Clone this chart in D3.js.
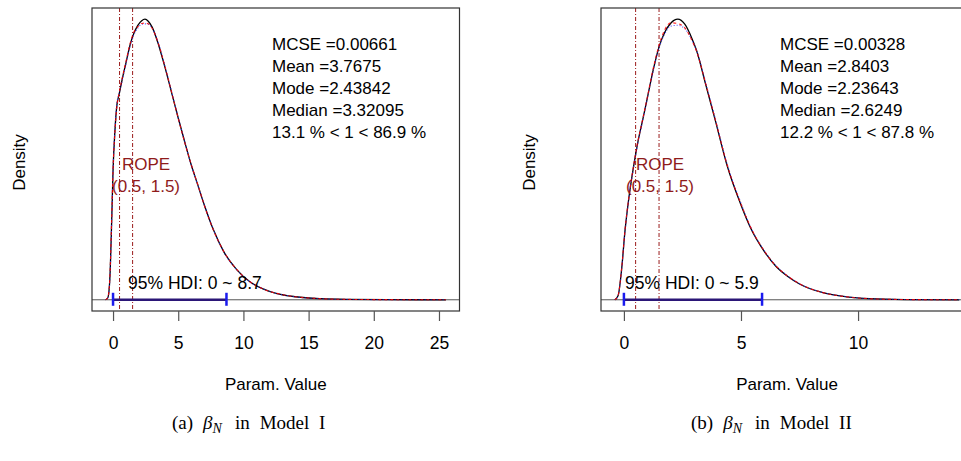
<!DOCTYPE html>
<html lang="en">
  <head>
    <meta charset="UTF-8" />
    <title>Posterior of beta_N</title>
    <script src="https://cdn.jsdelivr.net/npm/d3@7"></script>
    <style>
      body { margin: 0; background: #fff; }
      svg text { font-family: "Liberation Sans", Arial, sans-serif; }
      .cap { font-family: "Liberation Serif", "Times New Roman", serif; }
    </style>
  </head>

  <body>
    <div id="chart"></div>

    <script>

      // ---- Model I : density of beta_N (three chains) ----
      var xI = [-0.57, -0.4, -0.25, -0.1, 0.0, 0.15, 0.3, 0.45, 0.7, 1.0, 1.3, 1.6, 1.9, 2.2, 2.45, 2.7, 3.0, 3.5, 4.0, 4.5, 5.0,
                5.5, 6.0, 6.5, 7.0, 7.7, 8.5, 9.5, 10.5, 11.5, 12.5, 14.0, 16.0, 18.0, 21.0, 25.53];
      var densI = [0, 0.0015, 0.015, 0.061, 0.098, 0.129, 0.148, 0.155, 0.167, 0.180, 0.193, 0.202, 0.208, 0.2116, 0.2127, 0.2112,
                   0.2067, 0.193, 0.1756, 0.1567, 0.1378, 0.1196, 0.1022, 0.0871, 0.0719, 0.053, 0.0363, 0.0227, 0.0136, 0.0083,
                   0.0049, 0.0023, 0.0008, 0.0003, 0.0001, 0];
      var densI2 = [0, 0.0016, 0.016, 0.063, 0.099, 0.128, 0.147, 0.156, 0.168, 0.181, 0.194, 0.203, 0.207, 0.2095, 0.2098, 0.2092,
                    0.2058, 0.1935, 0.1762, 0.1570, 0.1375, 0.1192, 0.1025, 0.0874, 0.0716, 0.0528, 0.0365, 0.0228, 0.0137, 0.0082,
                    0.0050, 0.0023, 0.0008, 0.0003, 0.0001, 0];
      var densI3 = [0, 0.0014, 0.014, 0.060, 0.097, 0.130, 0.149, 0.156, 0.166, 0.179, 0.192, 0.201, 0.206, 0.2088, 0.2092, 0.2088,
                    0.2060, 0.1940, 0.1765, 0.1575, 0.1380, 0.1198, 0.1020, 0.0868, 0.0721, 0.0532, 0.0362, 0.0226, 0.0135, 0.0084,
                    0.0049, 0.0022, 0.0008, 0.0003, 0.0001, 0];
      var statsI = ["MCSE =0.00661", "Mean =3.7675", "Mode =2.43842", "Median =3.32095", "13.1 % < 1 < 86.9 %"];
      var hdiI = [0, 8.7];
      var ticksI = [0, 5, 10, 15, 20, 25];

      // ---- Model II ----
      var xII = [-0.39, -0.25, -0.1, 0.05, 0.2, 0.4, 0.6, 0.8, 1.0, 1.25, 1.5, 1.75, 2.0, 2.3, 2.6, 2.9, 3.1, 3.5, 3.9, 4.4,
                 5.0, 5.4, 6.0, 6.5, 7.0, 7.5, 8.5, 9.5, 10.5, 12.0, 14.32];
      var densII = [0, 0.0048, 0.036, 0.084, 0.120, 0.158, 0.190, 0.216, 0.2425, 0.276, 0.304, 0.322, 0.3325, 0.3373, 0.3313,
                    0.3145, 0.300, 0.258, 0.216, 0.162, 0.114, 0.087, 0.058, 0.040, 0.028, 0.019, 0.0085, 0.0036, 0.0013,
                    0.0003, 0];
      var densII2 = [0, 0.0050, 0.037, 0.085, 0.121, 0.159, 0.191, 0.217, 0.2435, 0.278, 0.306, 0.325, 0.3330, 0.3320, 0.3270,
                     0.3120, 0.2990, 0.259, 0.217, 0.163, 0.115, 0.088, 0.0585, 0.0405, 0.0283, 0.0192, 0.0086, 0.0036, 0.0013,
                     0.0003, 0];
      var densII3 = [0, 0.0046, 0.035, 0.083, 0.119, 0.157, 0.189, 0.215, 0.2420, 0.275, 0.303, 0.320, 0.3290, 0.3300, 0.3260,
                     0.3125, 0.3000, 0.260, 0.218, 0.164, 0.116, 0.088, 0.0588, 0.0408, 0.0285, 0.0193, 0.0087, 0.0037, 0.0013,
                     0.0003, 0];
      var statsII = ["MCSE =0.00328", "Mean =2.8403", "Mode =2.23643", "Median =2.6249", "12.2 % < 1 < 87.8 %"];
      var hdiII = [0, 5.9];
      var ticksII = [0, 5, 10];

      var rope = [0.5, 1.5];

      var w = 961,
          h = 461;

      var svg = d3.select("#chart").append("svg")
                  .attr("width", w)
                  .attr("height", h);

      svg.append("rect")
         .attr("width", w)
         .attr("height", h)
         .attr("fill", "#fff");

      var panels = [
        { xs: xI, ys: [densI, densI2, densI3], stats: statsI, hdi: hdiI, ticks: ticksI,
          left: 92, right: 459.5, statX: 272, ropeX: 146, hdiX: 128, ylab: 25, capX: 172,
          label: "(a)", model: "Model I" },
        { xs: xII, ys: [densII, densII2, densII3], stats: statsII, hdi: hdiII, ticks: ticksII,
          left: 601, right: 973, statX: 780, ropeX: 660, hdiX: 625, ylab: 535, capX: 691,
          label: "(b)", model: "Model II" }
      ];

      // plot region top / bottom (y pixels)
      var plotTop = 8,
          plotBot = 311;

      panels.forEach(function(p) {

        var ext = d3.extent(p.xs);
        var pad = (ext[1] - ext[0]) * 0.04;
        var xScale = d3.scaleLinear()
                       .domain([ext[0] - pad, ext[1] + pad])
                       .range([p.left, p.right]);

        var ymax = d3.max(p.ys[0]);
        var yScale = d3.scaleLinear()
                       .domain([-0.04 * ymax, 1.04 * ymax])
                       .range([plotBot, plotTop]);

        var g = svg.append("g");

        // zero line
        g.append("line")
         .attr("x1", p.left).attr("x2", p.right)
         .attr("y1", yScale(0)).attr("y2", yScale(0))
         .attr("stroke", "#555")
         .attr("stroke-width", 1);

        // ROPE lines
        g.selectAll(".rope")
         .data(rope)
         .enter()
         .append("line")
         .attr("class", "rope")
         .attr("x1", function(d) { return xScale(d); })
         .attr("x2", function(d) { return xScale(d); })
         .attr("y1", plotTop)
         .attr("y2", plotBot)
         .attr("stroke", "#9b1c1c")
         .attr("stroke-width", 1)
         .attr("stroke-dasharray", "4,2,1,2");

        // density curves: black solid, red dashed, blue dotted
        var styles = [
          { color: "#000", width: 1.3, dash: null },
          { color: "#ff0000", width: 1.1, dash: "3,3" },
          { color: "#3030ff", width: 1.1, dash: "1,2" }
        ];
        var line = d3.line()
                     .curve(d3.curveMonotoneX);
        [0, 2, 1].forEach(function(k) {
          var pts = p.xs.map(function(x, i) { return [xScale(x), yScale(p.ys[k][i])]; });
          g.append("path")
           .attr("d", line(pts))
           .attr("fill", "none")
           .attr("stroke", styles[k].color)
           .attr("stroke-width", styles[k].width)
           .attr("stroke-dasharray", styles[k].dash)
           .attr("opacity", k == 0 ? 1 : 0.85);
        });

        // HDI bar
        g.append("line")
         .attr("x1", xScale(p.hdi[0])).attr("x2", xScale(p.hdi[1]))
         .attr("y1", yScale(0)).attr("y2", yScale(0))
         .attr("stroke", "#2b1677")
         .attr("stroke-width", 2.5);
        g.selectAll(".hdiend")
         .data(p.hdi)
         .enter()
         .append("line")
         .attr("class", "hdiend")
         .attr("x1", function(d) { return xScale(d); })
         .attr("x2", function(d) { return xScale(d); })
         .attr("y1", yScale(0) - 7)
         .attr("y2", yScale(0) + 6)
         .attr("stroke", "#1a1aee")
         .attr("stroke-width", 2.5);

        g.append("text")
         .attr("x", p.hdiX)
         .attr("y", 289)
         .attr("font-size", "17.5px")
         .attr("fill", "#000")
         .text("95% HDI: " + p.hdi[0] + " ~ " + p.hdi[1]);

        // ROPE label
        g.append("text")
         .attr("x", p.ropeX)
         .attr("y", 170)
         .attr("text-anchor", "middle")
         .attr("font-size", "17px")
         .attr("fill", "#8f1b1b")
         .text("ROPE");
        g.append("text")
         .attr("x", p.ropeX)
         .attr("y", 192)
         .attr("text-anchor", "middle")
         .attr("font-size", "17px")
         .attr("fill", "#8f1b1b")
         .text("(" + rope[0] + ", " + rope[1] + ")");

        // stats
        g.selectAll(".stat")
         .data(p.stats)
         .enter()
         .append("text")
         .attr("class", "stat")
         .attr("x", p.statX)
         .attr("y", function(d, i) { return 50 + i * 22; })
         .attr("font-size", "17px")
         .attr("fill", "#000")
         .text(function(d) { return d; });

        // box
        g.append("rect")
         .attr("x", p.left)
         .attr("y", plotTop)
         .attr("width", p.right - p.left)
         .attr("height", plotBot - plotTop)
         .attr("fill", "none")
         .attr("stroke", "#333")
         .attr("stroke-width", 1.2);

        // x axis
        var xAxis = d3.axisBottom(xScale)
                      .tickValues(p.ticks)
                      .tickSize(10)
                      .tickSizeOuter(0)
                      .tickPadding(16)
                      .tickFormat(d3.format("d"));
        var ax = g.append("g")
                  .attr("transform", "translate(0," + plotBot + ")")
                  .call(xAxis);
        ax.select(".domain").remove();
        ax.selectAll(".tick line").attr("stroke", "#555").attr("stroke-width", 1.2);
        ax.selectAll(".tick text")
          .attr("font-size", "17.5px")
          .attr("font-family", "Liberation Sans, Arial, sans-serif")
          .attr("fill", "#000");

        g.append("text")
         .attr("x", (p.left + p.right) / 2)
         .attr("y", 390)
         .attr("text-anchor", "middle")
         .attr("font-size", "17px")
         .text("Param. Value");

        g.append("text")
         .attr("transform", "translate(" + p.ylab + "," + ((plotTop + plotBot) / 2 + 3) + ")rotate(-90)")
         .attr("text-anchor", "middle")
         .attr("font-size", "17px")
         .text("Density");

        // caption
        var cap = g.append("text")
                   .attr("class", "cap")
                   .attr("x", p.capX)
                   .attr("y", 429)
                   .attr("font-size", "19px")
                   .attr("word-spacing", "5px")
                   .attr("fill", "#000");
        cap.append("tspan").text(p.label);
        cap.append("tspan").attr("dx", 10).attr("font-style", "italic").text("\u03b2");
        cap.append("tspan").attr("dy", 4).attr("font-size", "14px").attr("font-style", "italic").text("N");
        cap.append("tspan").attr("dy", -4).attr("dx", 13).text("in");
        cap.append("tspan").attr("dx", 10).text(p.model);
      });

    </script>
  </body>
</html>
